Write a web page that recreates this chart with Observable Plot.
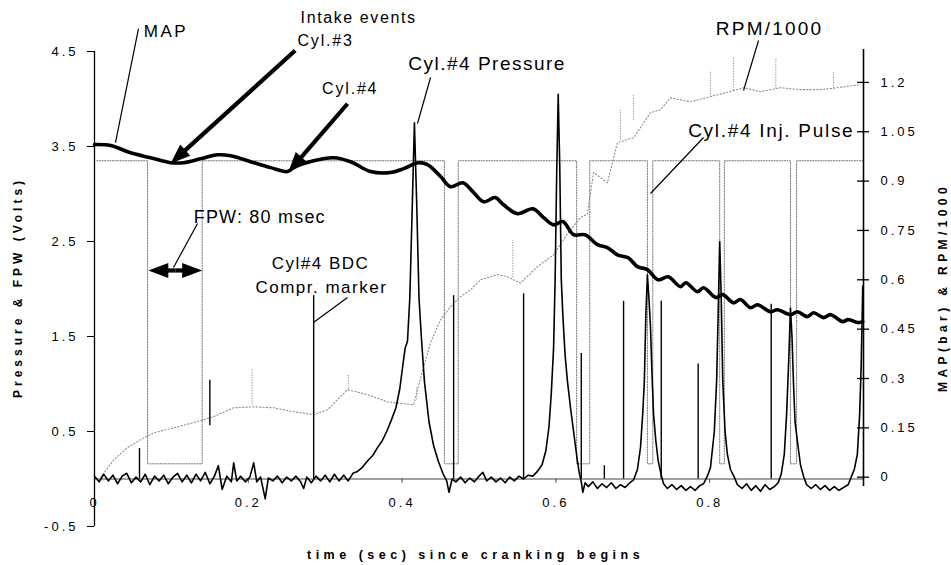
<!DOCTYPE html>
<html><head><meta charset="utf-8">
<script src="https://cdn.jsdelivr.net/npm/d3@7"></script>
<script src="https://cdn.jsdelivr.net/npm/@observablehq/plot@0.6"></script>
<style>
html,body{margin:0;padding:0;background:#fff;}
svg{display:block;}
g[aria-label="y-axis tick label"] text{letter-spacing:3px;}
</style></head><body><div id="chart"></div>
<script>
// ---------- data ----------
// MAP (bar, right axis)
const mapTime = [0,0.021,0.047,0.073,0.099,0.116,0.138,0.160,0.177,0.203,0.229,0.251,0.259,0.285,0.311,0.333,0.359,0.385,0.402,0.421,0.433,0.450,0.463,0.479,0.492,0.506,0.521,0.532,0.550,0.570,0.584,0.597,0.609,0.623,0.638,0.654,0.667,0.680,0.694,0.706,0.719,0.733,0.746,0.762,0.769,0.784,0.792,0.808,0.817,0.831,0.840,0.853,0.862,0.879,0.888,0.905,0.914,0.927,0.935,0.948,0.957,0.973,0.980,0.993,0.999];
const mapBar = [1.011,1.008,0.986,0.971,0.956,0.956,0.968,0.980,0.977,0.959,0.941,0.929,0.941,0.962,0.971,0.959,0.929,0.926,0.938,0.956,0.950,0.914,0.883,0.895,0.868,0.837,0.850,0.828,0.801,0.816,0.789,0.767,0.777,0.737,0.737,0.707,0.698,0.676,0.667,0.640,0.631,0.600,0.609,0.579,0.591,0.564,0.576,0.546,0.555,0.530,0.540,0.515,0.524,0.503,0.509,0.494,0.503,0.488,0.500,0.485,0.494,0.473,0.479,0.470,0.473];

// RPM/1000 (right axis)
const rpmTime = [0.008,0.025,0.043,0.060,0.077,0.103,0.129,0.155,0.181,0.207,0.233,0.259,0.285,0.303,0.329,0.355,0.381,0.415,0.420,0.427,0.437,0.450,0.463,0.476,0.489,0.502,0.524,0.537,0.554,0.576,0.597,0.615,0.632,0.641,0.649,0.667,0.680,0.701,0.723,0.736,0.749,0.775,0.801,0.827,0.844,0.866,0.892,0.918,0.944,0.966,0.996];
const rpmValue = [0.000,0.053,0.090,0.114,0.135,0.150,0.166,0.184,0.211,0.214,0.211,0.199,0.190,0.205,0.266,0.251,0.229,0.220,0.266,0.327,0.409,0.479,0.518,0.549,0.570,0.600,0.616,0.609,0.590,0.640,0.676,0.740,0.790,0.800,0.926,0.895,1.017,1.032,1.108,1.117,1.153,1.141,1.157,1.172,1.184,1.172,1.184,1.178,1.178,1.184,1.193];
const rpmSpikeTime = [0.205,0.330,0.419,0.544,0.684,0.701,0.801,0.831,0.886,0.961];
const rpmSpikeLow  = [0.220,0.266,0.235,0.607,1.025,1.085,1.155,1.175,1.180,1.180];
const rpmSpikeHigh = [0.330,0.310,0.270,0.720,1.115,1.160,1.235,1.275,1.272,1.230];

// Cyl.#4 pressure (Volts, left axis)
const presTime = [0.000,0.006,0.012,0.018,0.024,0.030,0.036,0.042,0.048,0.054,0.060,0.066,0.072,0.078,0.084,0.090,0.096,0.102,0.108,0.114,0.120,0.126,0.132,0.138,0.144,0.150,0.156,0.161,0.166,0.172,0.178,0.181,0.185,0.190,0.196,0.202,0.207,0.211,0.216,0.222,0.226,0.232,0.238,0.244,0.250,0.256,0.262,0.268,0.272,0.276,0.282,0.288,0.294,0.300,0.306,0.312,0.318,0.324,0.330,
 0.336,0.342,0.348,0.355,0.362,0.368,0.374,0.380,0.386,0.392,0.397,0.401,0.404,0.407,0.410,0.413,0.416,0.419,0.422,0.425,0.429,0.435,0.441,0.447,0.453,0.458,0.461,0.465,
 0.470,0.476,0.482,0.488,0.494,0.500,0.505,0.510,0.516,0.522,0.528,0.534,0.540,0.546,0.552,0.558,0.564,0.570,
 0.576,0.582,0.587,0.591,0.594,0.597,0.599,0.601,0.603,0.605,0.607,0.609,0.612,0.615,0.619,0.623,0.627,0.630,0.633,0.635,0.638,
 0.642,0.648,0.654,0.660,0.666,0.672,0.678,0.684,0.690,0.696,0.701,
 0.706,0.710,0.713,0.715,0.717,0.719,0.721,0.723,0.725,0.727,0.730,0.733,0.737,0.740,
 0.745,0.751,0.757,0.763,0.769,0.775,0.781,0.787,0.792,
 0.797,0.801,0.806,0.809,0.811,0.813,0.815,0.817,0.820,0.823,0.827,0.832,0.836,
 0.842,0.848,0.854,0.860,0.866,0.872,0.878,0.884,0.889,
 0.893,0.897,0.900,0.903,0.905,0.907,0.909,0.911,0.914,0.918,0.922,0.926,
 0.932,0.938,0.944,0.950,0.956,0.962,0.968,0.974,0.980,
 0.984,0.988,0.992,0.995,0.997,0.999];
const presVolts = [0.03,-0.03,0.05,-0.02,0.04,-0.05,0.03,0.06,-0.04,0.02,-0.03,0.05,-0.06,0.03,-0.02,0.04,-0.05,0.02,0.06,-0.03,0.04,-0.04,0.05,-0.02,0.07,-0.05,0.03,0.14,-0.11,0.03,-0.03,0.17,-0.02,0.03,-0.03,0.02,0.17,-0.03,0.02,-0.21,0.01,-0.02,0.03,-0.04,0.02,-0.02,0.03,-0.03,-0.10,0.02,-0.04,0.03,-0.02,0.04,-0.03,0.05,-0.02,0.04,-0.02,
 0.06,0.08,0.12,0.19,0.25,0.33,0.40,0.50,0.62,0.75,0.95,1.20,1.38,1.45,1.90,2.80,3.75,2.90,1.90,1.50,1.03,0.60,0.35,0.19,0.06,-0.02,-0.14,0.00,
 -0.03,0.02,-0.04,0.01,-0.03,0.03,0.07,-0.02,0.02,-0.03,0.01,-0.04,0.02,-0.02,0.03,0.00,0.04,0.03,
 0.08,0.15,0.30,0.55,0.90,1.38,2.10,3.20,4.05,3.30,2.10,1.73,1.30,1.03,0.75,0.50,0.25,0.08,-0.03,-0.14,-0.04,
 -0.08,-0.03,-0.10,-0.05,-0.09,-0.04,-0.10,-0.06,-0.09,-0.04,-0.01,
 0.10,0.33,0.70,1.03,1.73,2.15,1.90,1.60,1.10,0.68,0.40,0.19,0.04,-0.05,
 -0.10,-0.06,-0.11,-0.07,-0.12,-0.08,-0.12,-0.07,-0.05,
 0.03,0.12,0.50,1.03,1.73,2.50,1.90,1.03,0.50,0.26,0.10,0.02,-0.06,
 -0.10,-0.05,-0.12,-0.07,-0.13,-0.06,-0.11,-0.08,-0.04,
 0.05,0.26,0.68,1.30,1.80,1.50,1.00,0.60,0.40,0.15,0.03,-0.06,
 -0.10,-0.06,-0.11,-0.07,-0.12,-0.08,-0.12,-0.09,-0.06,
 0.02,0.10,0.26,0.68,1.20,2.03];

// BDC / compression markers (Volts)
const markerTime = [0.0585,0.150,0.285,0.467,0.558,0.633,0.663,0.688,0.737,0.785,0.880];
const markerLow  = [0,0.56,0,0,0,0,0,0,0,0,0];
const markerHigh = [0.32,1.04,1.93,1.93,1.95,1.32,0.14,1.87,1.87,1.21,1.84];

// Injector pulse (FPW) in Volts
const fpwStart = [0.069,0.455,0.627,0.719,0.813,0.905];
const fpwEnd   = [0.140,0.473,0.644,0.726,0.819,0.913];
const fpwHigh = 3.35, fpwLow = 0.16, fpwFirst = 0.003, fpwLast = 0.999;

// axes
const leftTicks = [-0.5,0.5,1.5,2.5,3.5,4.5];
const rightTicks = [0,0.15,0.3,0.45,0.6,0.75,0.9,1.05,1.2];
const xTicks = [0,0.2,0.4,0.6,0.8];
const leftTitle = "Pressure & FPW (Volts)";
const rightTitle = "MAP(bar) & RPM/1000";
const bottomTitle = "time (sec) since cranking begins";

// annotations
const labels = ["MAP","Intake events","Cyl.#3","Cyl.#4","Cyl.#4 Pressure","RPM/1000","Cyl.#4 Inj. Pulse","FPW: 80 msec","Cyl#4 BDC","Compr. marker"];
const labelPos = [[0.064,4.71],[0.268,4.858],[0.264,4.616],[0.296,4.11],[0.408,4.374],[0.808,4.742],[0.772,3.668],[0.129,2.753],[0.294,2.268],[0.295,2.016]];
const labelSize = [17,16,16,16,19,19,19,18,17,17];
const labelSpacing = [2.5,1.6,1.8,1.8,1.5,2.2,1.7,1.2,1.5,1.5];
const labelAnchor = ["start","start","start","start","start","start","start","start","middle","middle"];
const leaders = [[0.0572,4.742,0.0273,3.542],[0.437,4.226,0.42,3.742],[0.8635,4.616,0.844,4.089],[0.792,3.595,0.723,3.005],[0.134,2.689,0.1027,2.226],[0.329,1.911,0.2848,1.647]];
const bigArrows = [[0.261,4.51,0.0988,3.32],[0.329,3.95,0.252,3.23],[0.105,2.195,0.070,2.195],[0.105,2.195,0.140,2.195]];

// ---------- derived ----------
const K0 = 0.019, K1 = 3.463;          // right-axis units -> left-axis units
const toL = r => K0 + K1 * r;
const W = 951, H = 565, mL = 94, mR = 88, mT = 51, mB = 39;
const sx = d3.scaleLinear([0,1],[mL, W-mR]);
const sy = d3.scaleLinear([-0.5,4.5],[H-mB, mT]);

const mapData = mapTime.map((t,i)=>({t, v: toL(mapBar[i])}));
const rpmData = rpmTime.map((t,i)=>({t, v: toL(rpmValue[i])}));
const rpmSpikes = rpmSpikeTime.map((t,i)=>({t, lo: toL(rpmSpikeLow[i]), hi: toL(rpmSpikeHigh[i])}));
const presData = presTime.map((t,i)=>({t, v: presVolts[i]}));
const markers = markerTime.map((t,i)=>({t, lo: markerLow[i], hi: markerHigh[i]}));
const fpwData = [{t: fpwFirst, v: fpwHigh}];
fpwStart.forEach((s,i)=>{
  fpwData.push({t:s,v:fpwHigh},{t:s,v:fpwLow},{t:fpwEnd[i],v:fpwLow},{t:fpwEnd[i],v:fpwHigh});
});
fpwData.push({t: fpwLast, v: fpwHigh});

const ann = labels.map((s,i)=>({s, t: labelPos[i][0], v: labelPos[i][1], size: labelSize[i], anchor: labelAnchor[i]}));

// arrows: shaft + filled head
const HEAD = 20;
const shafts = [], heads = [];
bigArrows.forEach(([t1,v1,t2,v2])=>{
  const x1=sx(t1), y1=sy(v1), x2=sx(t2), y2=sy(v2);
  const dx=x2-x1, dy=y2-y1, n=Math.hypot(dx,dy);
  const xe = x2 - dx/n*HEAD*0.8, ye = y2 - dy/n*HEAD*0.8;
  shafts.push({t1, v1, t2: sx.invert(xe), v2: sy.invert(ye)});
  heads.push({t: t2, v: v2, a: Math.atan2(dx, -dy)*180/Math.PI});
});
const arrowHead = {draw(ctx, size){ const s = Math.sqrt(size/Math.PI)/8; ctx.moveTo(0,0); ctx.lineTo(-7.5*s, 20*s); ctx.lineTo(7.5*s, 20*s); ctx.closePath(); }};

const FONT = "'Liberation Sans', Arial, Helvetica, sans-serif";

const marks = [
  // FPW (injector pulse)
  Plot.line(fpwData, {x:"t", y:"v", stroke:"#777", strokeWidth:1, strokeDasharray:"1.2,1.4"}),
  // RPM
  Plot.line(rpmData, {x:"t", y:"v", stroke:"#8c8c8c", strokeWidth:1.1, strokeDasharray:"1.2,2.2", curve:"linear"}),
  Plot.ruleX(rpmSpikes, {x:"t", y1:"lo", y2:"hi", stroke:"#8c8c8c", strokeWidth:1, strokeDasharray:"1.2,1.4"}),
  // axes lines
  Plot.ruleY([0], {x1:0, x2:1, stroke:"#444", strokeWidth:1}),
  Plot.ruleX(xTicks.slice(1), {x:d=>d, y1:0, y2:-0.045, stroke:"#444"}),
  Plot.ruleX([0], {y1:-0.5, y2:4.5, stroke:"black", strokeWidth:1.3}),
  Plot.ruleX([1], {y1:-0.08, y2:4.52, stroke:"black", strokeWidth:1.6}),
  Plot.ruleY(rightTicks, {y:d=>toL(d), x1:1-0.0078, x2:1+0.0078, stroke:"black", strokeWidth:1.3}),
  // markers
  Plot.ruleX(markers, {x:"t", y1:"lo", y2:"hi", stroke:"black", strokeWidth:1.4}),
  // pressure
  Plot.line(presData, {x:"t", y:"v", stroke:"black", strokeWidth:1.6, strokeLinejoin:"round"}),
  // MAP
  Plot.line(mapData, {x:"t", y:"v", stroke:"black", strokeWidth:3.6, curve:"catmull-rom"}),
  // axes
  Plot.axisY(leftTicks, {anchor:"left", tickSize:7, tickPadding:9, fontSize:13, tickFormat:d=>String(d), fontFamily:FONT}),
  Plot.axisY(rightTicks.map(toL), {anchor:"right", tickSize:0, tickPadding:17, fontSize:13, fontFamily:FONT,
    tickFormat:d=>String(+((d-K0)/K1).toFixed(2))}),
  Plot.text(xTicks, {x:d=>d, y:0, dy:24, text:d=>String(d), fontSize:13, fontFamily:FONT}),
  // titles
  Plot.text([leftTitle], {x:-0.099, y:2.016, text:d=>d, rotate:-90, fontSize:12, fontWeight:"bold", fontFamily:FONT}),
  Plot.text([rightTitle], {x:1.104, y:2.016, text:d=>d, rotate:-90, fontSize:12, fontWeight:"bold", fontFamily:FONT}),
  Plot.text([bottomTitle], {x:0.4955, y:-0.805, text:d=>d, fontSize:12.5, fontWeight:"bold", fontFamily:FONT}),
  // annotations
  Plot.link(leaders, {x1:d=>d[0], y1:d=>d[1], x2:d=>d[2], y2:d=>d[3], stroke:"black", strokeWidth:1.2}),
  Plot.link(shafts, {x1:"t1", y1:"v1", x2:"t2", y2:"v2", stroke:"black", strokeWidth:4.2}),
  Plot.dot(heads, {x:"t", y:"v", rotate:"a", symbol: arrowHead, r:8, fill:"black", stroke:"none"}),
  Plot.text(ann.filter(d=>d.anchor==="start"), {x:"t", y:"v", text:"s", fontSize:d=>d.size, textAnchor:"start", fontFamily:FONT}),
  Plot.text(ann.filter(d=>d.anchor==="middle"), {x:"t", y:"v", text:"s", fontSize:d=>d.size, textAnchor:"middle", fontFamily:FONT})
];

const svg = Plot.plot({
  width: W, height: H,
  marginLeft: mL, marginRight: mR, marginTop: mT, marginBottom: mB,
  x: {domain:[0,1], axis:null},
  y: {domain:[-0.5,4.5], axis:null},
  style: {fontFamily: FONT, background:"white", color:"black", overflow:"visible"},
  marks
});
document.getElementById("chart").appendChild(svg);

// letter spacing (style only)
const spacing = new Map(labels.map((s,i)=>[s, labelSpacing[i]]));
spacing.set(leftTitle, 4); spacing.set(rightTitle, 4.4); spacing.set(bottomTitle, 4.5);
xTicks.forEach(d=>spacing.set(String(d), 3));
svg.querySelectorAll("text").forEach(t=>{
  const sp = spacing.get(t.textContent);
  if (sp != null && !t.closest('g[aria-label="y-axis tick label"]')) t.style.letterSpacing = sp + "px";
});
</script></body></html>
